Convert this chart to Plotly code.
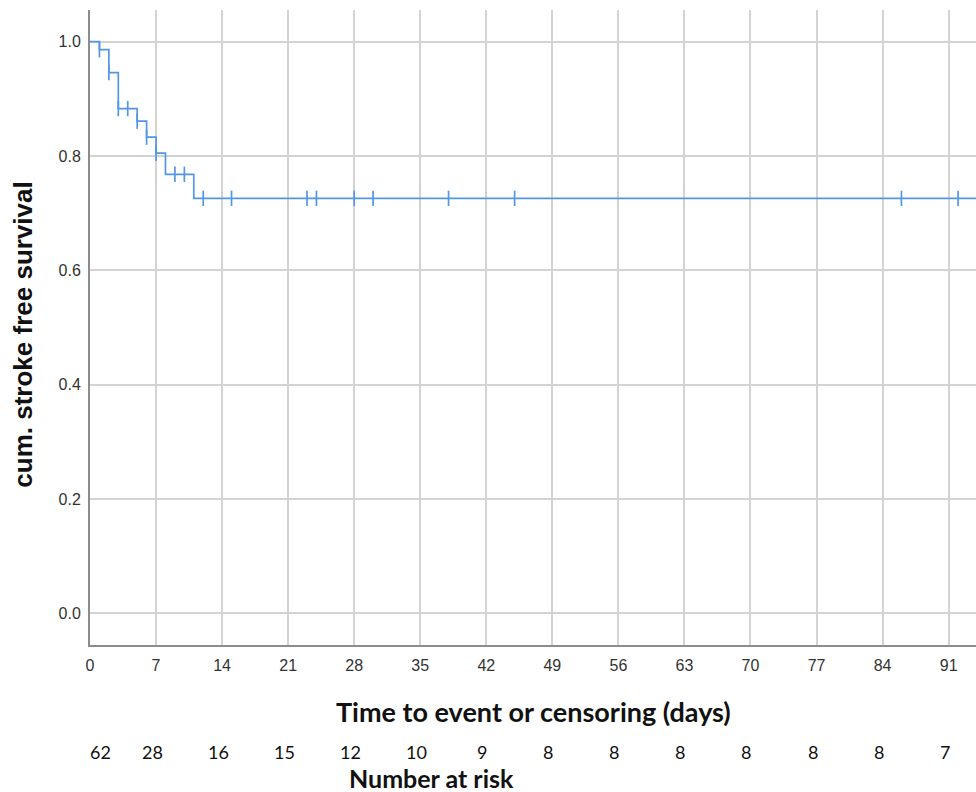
import numpy as np
import plotly.graph_objects as go

# Kaplan-Meier step data
event_times = [0, 1, 2, 3, 5, 6, 7, 8, 11, 95]
survival = [1.0, 0.986, 0.946, 0.883, 0.861, 0.833, 0.805, 0.768, 0.726, 0.726]

# censoring marks (days)
censor_times = [1, 2, 3, 4, 5, 6, 7, 9, 10, 12, 15, 23, 24, 28, 30, 38, 45, 86, 92]

# number at risk table
risk_days = [0, 7, 14, 21, 28, 35, 42, 49, 56, 63, 70, 77, 84, 91]
risk_counts = [62, 28, 16, 15, 12, 10, 9, 8, 8, 8, 8, 8, 8, 7]

x_ticks = list(range(0, 92, 7))
y_ticks = [0.0, 0.2, 0.4, 0.6, 0.8, 1.0]

BLUE = "#5297e6"
GRID = "#d3d3d3"
AXIS = "#8c8c8c"

idx = np.searchsorted(event_times, censor_times, side="right") - 1
censor_surv = [survival[i] for i in idx]

fig = go.Figure()
fig.add_trace(go.Scatter(
    x=event_times, y=survival, mode="lines",
    line=dict(shape="hv", color=BLUE, width=1.7),
    hoverinfo="skip", showlegend=False,
))
fig.add_trace(go.Scatter(
    x=censor_times, y=censor_surv, mode="markers",
    marker=dict(symbol="line-ns", size=11, color=BLUE,
                line=dict(color=BLUE, width=1.7)),
    showlegend=False,
))

annotations = []
for i, (d, n) in enumerate(zip(risk_days, risk_counts)):
    annotations.append(dict(
        x=d, y=-0.1685, xref="x", yref="paper", text=str(n),
        showarrow=False, xanchor="center", yanchor="middle",
        xshift=10 if i == 0 else -4,
        font=dict(family="Lato, Liberation Sans, sans-serif", size=18, color="#111"),
    ))
annotations.append(dict(
    x=0.5, y=-0.104, xref="paper", yref="paper",
    text="<b>Time to event or censoring (days)</b>", showarrow=False,
    xanchor="center", yanchor="middle",
    font=dict(family="Lato, Liberation Sans, sans-serif", size=27, color="#111"),
))
annotations.append(dict(
    x=0.385, y=-0.209, xref="paper", yref="paper",
    text="<b>Number at risk</b>", showarrow=False,
    xanchor="center", yanchor="middle",
    font=dict(family="Lato, Liberation Sans, sans-serif", size=25, color="#111"),
))
annotations.append(dict(
    x=-0.075, y=0.488, xref="paper", yref="paper",
    text="<b>cum. stroke free survival</b>", showarrow=False,
    textangle=-90, xanchor="center", yanchor="middle",
    font=dict(family="Liberation Sans, Arial, sans-serif", size=26, color="#111"),
))

fig.update_layout(
    width=976, height=792,
    margin=dict(l=90, r=0, t=10, b=147),
    paper_bgcolor="white", plot_bgcolor="white",
    annotations=annotations,
    xaxis=dict(
        range=[0, 93.9], tickmode="array", tickvals=x_ticks,
        showgrid=True, gridcolor=GRID, gridwidth=2,
        showline=True, linecolor=AXIS, linewidth=2,
        zeroline=False, ticks="", ticklabelstandoff=5,
        tickfont=dict(family="Liberation Sans, Arial, sans-serif", size=16, color="#333"),
    ),
    yaxis=dict(
        range=[-0.0555, 1.0555], tickmode="array", tickvals=y_ticks,
        tickformat=".1f",
        showgrid=True, gridcolor=GRID, gridwidth=2,
        showline=True, linecolor=AXIS, linewidth=2,
        zeroline=False, ticks="", ticklabelstandoff=4,
        tickfont=dict(family="Liberation Sans, Arial, sans-serif", size=16, color="#333"),
    ),
)

fig.write_html(
    "out.html",
    config={"displayModeBar": False},
    post_script="document.body.style.margin='0px';document.body.style.overflow='hidden';",
)
